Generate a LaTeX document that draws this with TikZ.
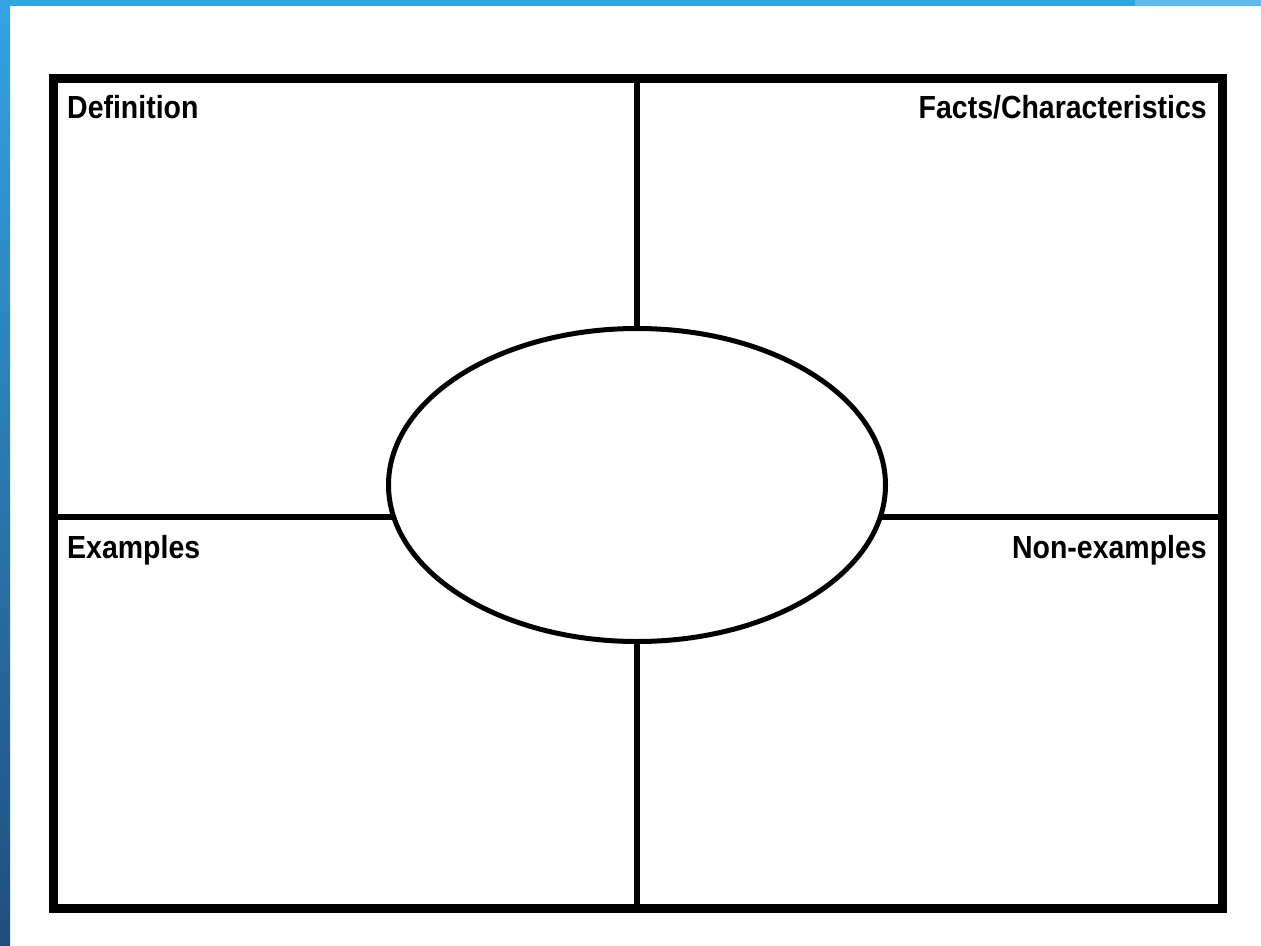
\documentclass[tikz,border=0pt]{standalone}
\usepackage{fontspec}
\usetikzlibrary{shapes.geometric}
\newfontfamily\labfont[FakeStretch=0.89]{Liberation Sans}
\definecolor{blueA}{HTML}{35A3E2}
\definecolor{blueB}{HTML}{1F4E7E}
\definecolor{blueC}{HTML}{62B8EA}
\begin{document}
\begin{tikzpicture}[x=1bp,y=-1bp,
  frame/.style={line width=9bp,line join=miter},
  divider/.style={line width=6bp},
  lab/.style={inner sep=0pt,font=\labfont\bfseries\fontsize{32bp}{36bp}\selectfont}]
\useasboundingbox (0,0) rectangle (1261,946);
\fill[white] (0,0) rectangle (1261,946);
% blue decorative strips
\shade[top color=blueA,bottom color=blueB] (0,0) rectangle (10,946);
\fill[blueA] (0,0) rectangle (1135,6);
\fill[blueC] (1135,0) rectangle (1261,6);
% frame
\coordinate (tl) at (53,78);
\coordinate (br) at (1222,908);
\node[draw,ellipse,line width=5bp,minimum width=497bp,minimum height=313bp,inner sep=0pt,outer sep=0pt] (center) at (637,485) {};
\coordinate (lj) at (394,517);
\coordinate (rj) at (880,517);
\draw[divider] (center.north |- tl) -- (center.north);
\draw[divider] (center.south) -- (center.south |- br);
\draw[divider] (tl |- lj) -- (lj);
\draw[divider] (rj) -- (br |- rj);
\draw[frame] (tl) rectangle (br);
\node[lab,anchor=base west] (def) at (67,118) {Definition};
\node[lab,anchor=base east] (facts) at (1207,118) {Facts/Characteristics};
\node[lab,anchor=base west] (ex) at (67,558) {Examples};
\node[lab,anchor=base east] (nonex) at (1207,558) {Non-examples};
\end{tikzpicture}
\end{document}
